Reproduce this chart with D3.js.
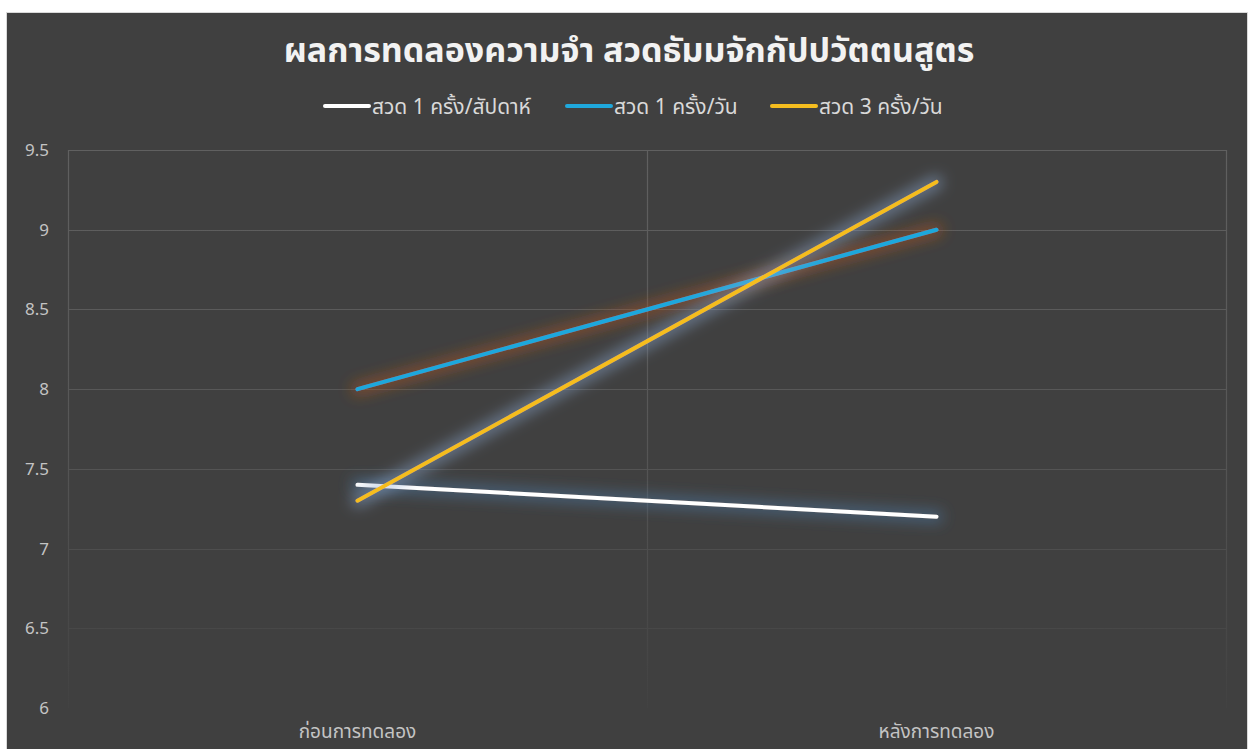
<!DOCTYPE html>
<head>
  <meta charset="utf-8">
  <script src="https://d3js.org/d3.v7.min.js"></script>
  <style>
    body {
      margin: 0;
      background: #fff;
      font-family: "Noto Sans Thai", "Leelawadee UI", "Noto Sans", "DejaVu Sans", sans-serif;
    }
  </style>
</head>

<body>
  <svg width="1253" height="749" id="chart"></svg>

  <script>

    const categories = ['ก่อนการทดลอง', 'หลังการทดลอง'];
    const seriesNames = ['สวด 1 ครั้ง/สัปดาห์', 'สวด 1 ครั้ง/วัน', 'สวด 3 ครั้ง/วัน'];
    const weekly = [7.4, 7.2];
    const daily = [8, 9];
    const thrice = [7.3, 9.3];
    const yTicks = [6, 6.5, 7, 7.5, 8, 8.5, 9, 9.5];

    const colors = ['#ffffff', '#1fa8dc', '#f5bd1f'];
    const glows = ['#4d7fb0', '#b4561e', '#8aa6cc'];
    const series = [weekly, daily, thrice];

    const svg = d3.select('#chart');
    const defs = svg.append('defs');

    // chart box
    svg.append('rect')
      .attr('x', 6.5).attr('y', 12.5)
      .attr('width', 1241).attr('height', 745)
      .attr('fill', '#404040')
      .attr('stroke', '#d9d9d9');

    const pLeft = 68, pRight = 1226, pTop = 150, pBottom = 708;

    const x = d3.scaleBand().domain(categories).range([pLeft, pRight]);
    const y = d3.scaleLinear().domain([6, 9.5]).range([pBottom, pTop]);

    // gridlines fade toward the bottom
    const grad = defs.append('linearGradient')
      .attr('id', 'gridfade')
      .attr('gradientUnits', 'userSpaceOnUse')
      .attr('x1', 0).attr('y1', pTop).attr('x2', 0).attr('y2', pBottom);
    grad.append('stop').attr('offset', '0%').attr('stop-color', '#606060');
    grad.append('stop').attr('offset', '50%').attr('stop-color', '#575757');
    grad.append('stop').attr('offset', '100%').attr('stop-color', '#424242');

    const grid = svg.append('g');
    grid.selectAll('line.h')
      .data(yTicks.filter(d => d > 6))
      .enter().append('line')
      .attr('x1', pLeft).attr('x2', pRight)
      .attr('y1', d => Math.round(y(d)) + 0.5)
      .attr('y2', d => Math.round(y(d)) + 0.5)
      .attr('stroke', 'url(#gridfade)')
      .attr('stroke-width', 1.2);

    const vx = [pLeft, x(categories[1]), pRight];
    grid.selectAll('line.v')
      .data(vx)
      .enter().append('line')
      .attr('x1', d => d + 0.5).attr('x2', d => d + 0.5)
      .attr('y1', pTop).attr('y2', pBottom)
      .attr('stroke', 'url(#gridfade)')
      .attr('stroke-width', 1.2);

    // y axis labels
    svg.append('g').selectAll('text')
      .data(yTicks)
      .enter().append('text')
      .attr('x', 49)
      .attr('y', d => y(d) + 6)
      .attr('text-anchor', 'end')
      .attr('font-size', 17)
      .attr('fill', '#c4c4c4')
      .text(d => d);

    // x axis labels
    svg.append('g').selectAll('text')
      .data(categories)
      .enter().append('text')
      .attr('x', d => x(d) + x.bandwidth() / 2)
      .attr('y', 738)
      .attr('text-anchor', 'middle')
      .attr('font-size', 19)
      .attr('fill', '#c4c4c4')
      .text(d => d);

    // glow filters
    glows.forEach((c, i) => {
      const f = defs.append('filter')
        .attr('id', 'glow' + i)
        .attr('x', '-20%').attr('y', '-60%')
        .attr('width', '140%').attr('height', '220%');
      f.append('feMorphology').attr('in', 'SourceAlpha').attr('operator', 'dilate').attr('radius', 4).attr('result', 'd');
      f.append('feGaussianBlur').attr('in', 'd').attr('stdDeviation', 7).attr('result', 'b');
      f.append('feFlood').attr('flood-color', c).attr('flood-opacity', 0.5);
      f.append('feComposite').attr('in2', 'b').attr('operator', 'in').attr('result', 'g');
      const m = f.append('feMerge');
      m.append('feMergeNode').attr('in', 'g');
      m.append('feMergeNode').attr('in', 'SourceGraphic');
    });

    const line = d3.line()
      .x((d, i) => x(categories[i]) + x.bandwidth() / 2)
      .y(d => y(d));

    svg.append('g').selectAll('path')
      .data(series)
      .enter().append('path')
      .attr('d', line)
      .attr('fill', 'none')
      .attr('stroke', (d, i) => colors[i])
      .attr('stroke-width', 4)
      .attr('stroke-linecap', 'round')
      .attr('filter', (d, i) => 'url(#glow' + i + ')');

    // title
    svg.append('text')
      .attr('x', 629)
      .attr('y', 62)
      .attr('text-anchor', 'middle')
      .attr('font-size', 34)
      .attr('font-weight', 'bold')
      .attr('fill', '#f2f2f2')
      .text('ผลการทดลองความจำ สวดธัมมจักกัปปวัตตนสูตร');

    // legend
    const legendX = [323, 565, 770];
    const lg = svg.append('g').selectAll('g')
      .data(seriesNames)
      .enter().append('g')
      .attr('transform', (d, i) => `translate(${legendX[i]},106)`);
    lg.append('line')
      .attr('x1', 2).attr('x2', 46)
      .attr('y1', 0).attr('y2', 0)
      .attr('stroke', (d, i) => colors[i])
      .attr('stroke-width', 4)
      .attr('stroke-linecap', 'round');
    lg.append('text')
      .attr('x', 49)
      .attr('y', 8)
      .attr('font-size', 21)
      .attr('fill', '#d9d9d9')
      .text(d => d);

  </script>
</body>
